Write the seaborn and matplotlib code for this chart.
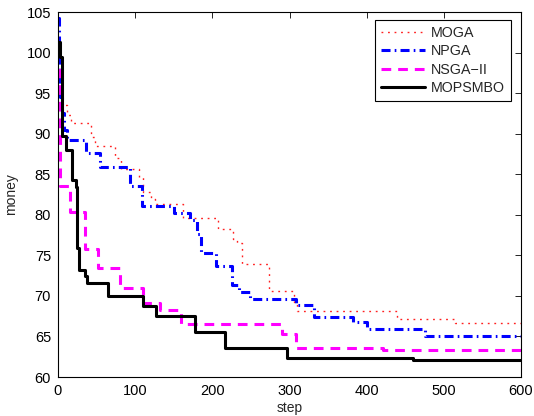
import matplotlib
matplotlib.use("Agg")
import matplotlib.pyplot as plt
import seaborn as sns
import pandas as pd

# Best solution cost (money) per optimisation step for each algorithm
moga_step = [0, 4, 12, 17, 43, 48, 74, 82, 105, 110, 121, 126, 162, 207, 227, 232,
             238, 273, 306, 310, 439, 514, 600]
moga_money = [95.0, 93.5, 92.3, 91.3, 89.6, 88.5, 87.0, 85.7, 84.6, 82.8, 82.0, 81.3,
              79.6, 78.2, 77.0, 76.5, 73.9, 70.6, 69.3, 68.1, 67.2, 66.6, 66.6]

npga_step = [0, 1, 3, 5, 8, 12, 36, 54, 93, 109, 150, 171, 180, 185, 205, 225, 235,
             249, 309, 332, 382, 401, 476, 600]
npga_money = [104.2, 95.5, 94.5, 92.5, 90.5, 89.2, 87.6, 85.9, 83.5, 81.1, 80.2, 79.3,
              77.6, 75.3, 73.7, 71.3, 70.5, 69.6, 68.9, 67.35, 66.8, 65.9, 65.0, 65.0]

nsga_step = [0, 2, 15, 35, 52, 80, 110, 132, 159, 290, 308, 421, 600]
nsga_money = [97.8, 83.5, 80.4, 75.8, 73.5, 71.0, 69.1, 68.3, 66.5, 65.3, 63.6, 63.3, 63.3]

mops_step = [0, 2, 5, 11, 18, 23, 25, 27, 35, 38, 65, 110, 127, 177, 216, 297, 460, 600]
mops_money = [101.3, 99.5, 89.7, 88.0, 84.3, 83.4, 75.9, 73.2, 72.5, 71.6, 70.0, 68.8,
              67.5, 65.6, 63.6, 62.3, 62.1, 62.1]

labels = ["MOGA", "NPGA", "NSGA\u2212II", "MOPSMBO"]
x_ticks = [0, 100, 200, 300, 400, 500, 600]
y_ticks = [60, 65, 70, 75, 80, 85, 90, 95, 100, 105]

sns.set_style("white")
plt.rcParams["font.family"] = ["Liberation Sans", "DejaVu Sans"]
plt.rcParams["lines.scale_dashes"] = False

fig = plt.figure(figsize=(5.34, 4.16), dpi=100)
ax = fig.add_axes([58 / 534, 39 / 416, 463 / 534, 365 / 416])

series = [
    (moga_step, moga_money, "#ff2020", (0, (1.3, 3.4)), 1.0),
    (npga_step, npga_money, "#0000ff", (0, (6.5, 3.0, 1.2, 3.0)), 2.2),
    (nsga_step, nsga_money, "#ff00ff", (0, (7.0, 5.0)), 2.2),
    (mops_step, mops_money, "#000000", "-", 2.2),
]
for (xs, ys, col, ls, lw), lab in zip(series, labels):
    df = pd.DataFrame({"step": xs, "money": ys})
    sns.lineplot(data=df, x="step", y="money", ax=ax, color=col, linestyle=ls,
                 linewidth=lw, drawstyle="steps-post", label=lab,
                 estimator=None, sort=False)

ax.set_xlim(0, 600)
ax.set_ylim(60, 105)
ax.set_xticks(x_ticks)
ax.set_yticks(y_ticks)
ax.tick_params(direction="in", top=True, right=True, length=4, width=0.6,
               labelsize=10.5, colors="black", pad=5)
for sp in ax.spines.values():
    sp.set_visible(True)
    sp.set_color("black")
    sp.set_linewidth(0.8)
ax.set_xlabel("step", fontsize=10, labelpad=2)
ax.set_ylabel("money", fontsize=10, labelpad=6)

leg = ax.legend(loc="upper right", bbox_to_anchor=(0.978, 0.978), fontsize=10.3,
                frameon=True, fancybox=False, framealpha=1, edgecolor="black",
                handlelength=3.1, handletextpad=0.4, labelspacing=0.32,
                borderpad=0.4, borderaxespad=0)
leg.get_frame().set_linewidth(0.8)

fig.savefig("out.png", dpi=100)
